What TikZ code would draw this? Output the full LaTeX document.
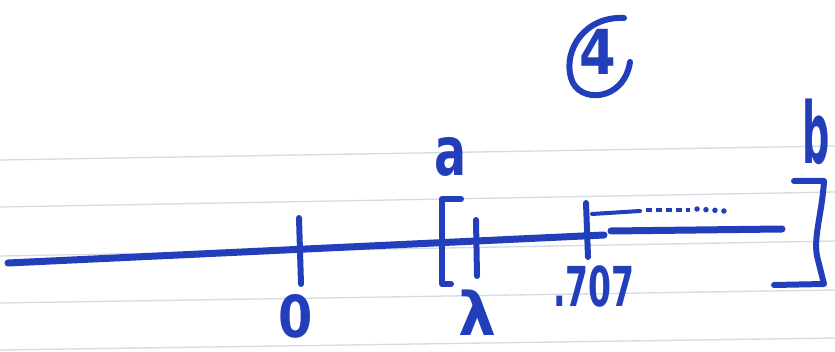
\documentclass[tikz,border=0pt]{standalone}
\usepackage{fontspec}
\setmainfont{DejaVu Sans}
\begin{document}
\begin{tikzpicture}[x=1pt,y=-1pt,
  ink/.style={draw=inkblue,line width=6pt,line cap=round,line join=round},
  rule/.style={draw=rulecol,line width=1.3pt},
  hand/.style={text=inkblue,inner sep=0pt,font=\bfseries}]
\definecolor{inkblue}{RGB}{34,62,186}
\definecolor{rulecol}{RGB}{208,220,230}
\useasboundingbox[fill=white] (0,0) rectangle (835,352);
% ruled paper lines
\foreach \yl/\yr in {160/146,207/192,256/241,303/290,350/338}
  \draw[rule] (0,\yl) -- (835,\yr);
% coordinates
\coordinate (L) at (8,263);
\coordinate (M) at (604,235);
\coordinate (S1) at (611,231);
\coordinate (S2) at (782,229);
% main number line
\draw[ink,line width=7pt] (L) -- (M);
\draw[ink,line width=7pt] (S1) -- (S2);
% ticks
\coordinate (t0a) at (299,218); \coordinate (t0b) at (301,284);
\draw[ink] (t0a) -- (t0b);
\coordinate (tla) at (476,220); \coordinate (tlb) at (477,276);
\draw[ink] (tla) -- (tlb);
\coordinate (t7a) at (586,203); \coordinate (t7b) at (588,257);
\draw[ink] (t7a) -- (t7b);
% left bracket
\coordinate (lb1) at (461,199); \coordinate (lb2) at (442,199);
\coordinate (lb3) at (442,284); \coordinate (lb4) at (451,284);
\draw[ink] (lb1) -- (lb2) -- (lb3) -- (lb4);
% right bracket
\coordinate (rb1) at (794,181); \coordinate (rb2) at (824,181);
\coordinate (rb3) at (824,284); \coordinate (rb4) at (774,285);
\draw[ink] (rb1) -- (rb2) .. controls (822,215) and (812,240) .. (818,260) -- (rb3) -- (rb4);
% dotted trail
\coordinate (d1) at (592,214); \coordinate (d2) at (640,211);
\coordinate (d3) at (646,210); \coordinate (d4) at (690,210);
\coordinate (d5) at (697,209); \coordinate (d6) at (724,211);
\draw[ink,line width=4pt] (d1) -- (d2);
\draw[ink,line width=4.5pt,line cap=butt,dash pattern=on 6pt off 4pt] (d3) -- (d4);
\draw[ink,line width=5.5pt,dash pattern=on 0pt off 9pt] (d5) -- (d6);
% circled 4
\coordinate (c1) at (624,18); \coordinate (c2) at (571,78); \coordinate (c3) at (630,62);
\draw[ink,line width=6pt] (c1) .. controls (585,16) and (563,50) .. (c2) .. controls (578,104) and (624,102) .. (c3);
\node[hand,font=\bfseries\fontsize{62}{62}\selectfont] (four) at (598,52) {\scalebox{0.85}[1]{4}};
% labels
\node[hand,font=\bfseries\fontsize{68}{68}\selectfont] (a) at (451,157) {\scalebox{0.7}[1]{a}};
\node[hand,font=\bfseries\fontsize{85}{85}\selectfont] (b) at (816,132) {\scalebox{0.45}[1]{b}};
\node[hand,font=\bfseries\fontsize{58}{58}\selectfont] (zero) at (296,316) {\scalebox{0.85}[1]{0}};
\node[hand,font=\bfseries\fontsize{60}{60}\selectfont] (lam) at (477,313) {λ};
\node[hand,font=\bfseries\fontsize{55}{55}\selectfont] (p707) at (594,286) {\scalebox{0.6}[1]{.707}};
\end{tikzpicture}
\end{document}
